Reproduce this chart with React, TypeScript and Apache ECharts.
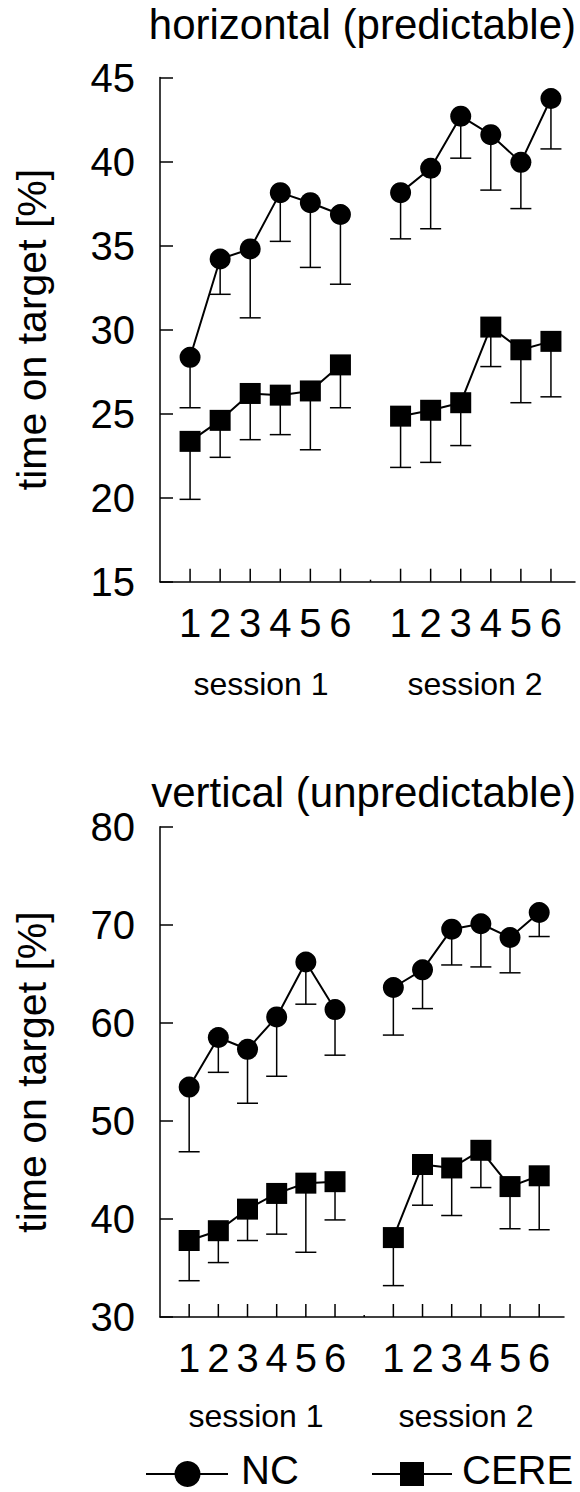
import React, { useEffect, useRef } from 'react';
import * as echarts from 'echarts';

// ---- data ----
const trialLabels = ['1', '2', '3', '4', '5', '6'];
const sessionLabels = ['session 1', 'session 2'];
const trialPos = [1, 2, 3, 4, 5, 6, 8, 9, 10, 11, 12, 13];
const gapPos = 7;
const seriesNames = ['NC', 'CERE'];
const panelTitles = ['horizontal (predictable)', 'vertical (unpredictable)'];
const yAxisName = 'time on target [%]';

// horizontal (predictable)
const horizontalNC = [28.35, 34.2, 34.8, 38.15, 37.55, 36.85, 38.15, 39.6, 42.7, 41.6, 39.95, 43.75];
const horizontalNCLow = [25.35, 32.1, 30.7, 35.25, 33.7, 32.7, 35.4, 36.0, 40.2, 38.3, 37.2, 40.75];
const horizontalCERE = [23.35, 24.6, 26.2, 26.1, 26.35, 27.9, 24.85, 25.2, 25.65, 30.15, 28.8, 29.3];
const horizontalCERELow = [19.9, 22.4, 23.45, 23.75, 22.85, 25.35, 21.8, 22.1, 23.1, 27.8, 25.65, 26.0];
const horizontalTicks = [15, 45, 5];

// vertical (unpredictable)
const verticalNC = [53.45, 58.5, 57.3, 60.6, 66.2, 61.35, 63.6, 65.4, 69.55, 70.1, 68.7, 71.25];
const verticalNCLow = [46.85, 54.95, 51.8, 54.55, 61.9, 56.7, 58.75, 61.45, 65.9, 65.7, 65.1, 68.8];
const verticalCERE = [37.8, 38.8, 41.0, 42.6, 43.65, 43.8, 38.1, 45.55, 45.2, 47.0, 43.3, 44.4];
const verticalCERELow = [33.7, 35.55, 37.8, 38.45, 36.6, 39.9, 33.2, 41.4, 40.35, 43.2, 39.0, 38.9];
const verticalTicks = [30, 80, 10];

const FONT = "'Liberation Sans', Arial, Helvetica, sans-serif";
const BLACK = '#000';

function lineData(vals: number[]) {
  const d: any[] = [];
  vals.forEach((v, i) => {
    if (i === 6) d.push([gapPos, '-']);
    d.push([trialPos[i], v]);
  });
  return d;
}

function errData(vals: number[], low: number[]) {
  return vals.map((v, i) => [trialPos[i], v, low[i]]);
}

const panels = [
  {
    title: panelTitles[0], nc: horizontalNC, ncLow: horizontalNCLow, cere: horizontalCERE, cereLow: horizontalCERELow,
    ticks: horizontalTicks, xMax: 13.8,
    grid: { left: 160, top: 77.5, width: 415, height: 504.2 },
    titleY: 24.5, sessionY: 684, session1X: 261, session2X: 475, nameY: 329.5,
  },
  {
    title: panelTitles[1], nc: verticalNC, ncLow: verticalNCLow, cere: verticalCERE, cereLow: verticalCERELow,
    ticks: verticalTicks, xMax: 13.85,
    grid: { left: 160, top: 826.7, width: 404, height: 490.3 },
    titleY: 792, sessionY: 1416, session1X: 256, session2X: 466, nameY: 1072,
  },
];

function errRender(params: any, api: any) {
  const x = api.value(0);
  const top = api.coord([x, api.value(1)]);
  const bot = api.coord([x, api.value(2)]);
  return {
    type: 'group',
    children: [
      { type: 'line', shape: { x1: top[0], y1: top[1], x2: bot[0], y2: bot[1] }, style: { stroke: BLACK, lineWidth: 1.5 } },
      { type: 'line', shape: { x1: bot[0] - 10.5, y1: bot[1], x2: bot[0] + 10.5, y2: bot[1] }, style: { stroke: BLACK, lineWidth: 1.5 } },
    ],
  };
}

function tickRender(params: any, api: any) {
  const x = api.value(0);
  const p = api.coord([x, api.value(1)]);
  const len = x === gapPos ? 2 : 13;
  return {
    type: 'line',
    shape: { x1: p[0], y1: p[1], x2: p[0], y2: p[1] - len },
    style: { stroke: BLACK, lineWidth: 1.5 },
  };
}

function textEl(x: number, y: number, text: string, size: number, align: string, extra: any = {}) {
  return {
    type: 'text', x, y, ...extra,
    style: {
      text, fontSize: size, fontFamily: FONT, fill: BLACK,
      textAlign: align, align, textVerticalAlign: 'middle', verticalAlign: 'middle',
    },
  };
}

function buildOption() {
  const grid: any[] = [];
  const xAxis: any[] = [];
  const yAxis: any[] = [];
  const series: any[] = [];
  const graphic: any[] = [];

  panels.forEach((p, gi) => {
    grid.push({ ...p.grid, containLabel: false });
    xAxis.push({
      type: 'value', gridIndex: gi, min: 0, max: p.xMax, interval: 1,
      axisLine: { show: true, onZero: false, lineStyle: { color: BLACK, width: 1.5 } },
      axisTick: { show: false },
      splitLine: { show: false },
      axisLabel: {
        margin: 21, fontSize: 40, fontFamily: FONT, color: BLACK,
        formatter: (v: number) => {
          if (v >= 1 && v <= 6 && Number.isInteger(v)) return trialLabels[v - 1];
          if (v >= 8 && v <= 13 && Number.isInteger(v)) return trialLabels[v - 8];
          return '';
        },
      },
    });
    yAxis.push({
      type: 'value', gridIndex: gi, min: p.ticks[0], max: p.ticks[1], interval: p.ticks[2],
      axisLine: { show: true, lineStyle: { color: BLACK, width: 1.5 } },
      axisTick: { show: true, inside: true, length: 13, lineStyle: { color: BLACK, width: 1.5 } },
      splitLine: { show: false },
      axisLabel: { margin: 25, fontSize: 40, fontFamily: FONT, color: BLACK },
    });

    // x ticks (drawn through the axes' scales)
    series.push({
      type: 'custom', xAxisIndex: gi, yAxisIndex: gi, clip: false, z: 3, silent: true,
      renderItem: tickRender,
      encode: { x: 0, y: 1 },
      data: [...trialPos, gapPos].map((x) => [x, p.ticks[0]]),
    });

    // error bars
    [[p.nc, p.ncLow], [p.cere, p.cereLow]].forEach(([v, l]) => {
      series.push({
        type: 'custom', xAxisIndex: gi, yAxisIndex: gi, clip: false, z: 2, silent: true,
        renderItem: errRender,
        encode: { x: 0, y: [1, 2] },
        data: errData(v, l),
      });
    });

    // lines with markers
    series.push({
      name: seriesNames[0], type: 'line', xAxisIndex: gi, yAxisIndex: gi, z: 4,
      data: lineData(p.nc), symbol: 'circle', symbolSize: 21, showSymbol: true,
      lineStyle: { color: BLACK, width: 2 }, itemStyle: { color: BLACK },
      connectNulls: false,
    });
    series.push({
      name: seriesNames[1], type: 'line', xAxisIndex: gi, yAxisIndex: gi, z: 4,
      data: lineData(p.cere), symbol: 'rect', symbolSize: 21, showSymbol: true,
      lineStyle: { color: BLACK, width: 2 }, itemStyle: { color: BLACK },
      connectNulls: false,
    });

    graphic.push(textEl(576, p.titleY, p.title, 42, 'right'));
    graphic.push(textEl(32, p.nameY, yAxisName, 41, 'center', { rotation: Math.PI / 2 }));
    graphic.push(textEl(p.session1X, p.sessionY, sessionLabels[0], 32, 'center'));
    graphic.push(textEl(p.session2X, p.sessionY, sessionLabels[1], 32, 'center'));
  });

  // legend
  const ly = 1474;
  graphic.push({ type: 'line', shape: { x1: 146, y1: ly, x2: 228, y2: ly }, style: { stroke: BLACK, lineWidth: 2 } });
  graphic.push({ type: 'circle', shape: { cx: 187.5, cy: ly, r: 13 }, style: { fill: BLACK } });
  graphic.push(textEl(241, 1470, seriesNames[0], 40, 'left'));
  graphic.push({ type: 'line', shape: { x1: 372, y1: ly, x2: 452, y2: ly }, style: { stroke: BLACK, lineWidth: 2 } });
  graphic.push({ type: 'rect', shape: { x: 400, y: ly - 12, width: 24, height: 24 }, style: { fill: BLACK } });
  graphic.push(textEl(462, 1470, seriesNames[1], 40, 'left'));

  return {
    animation: false,
    backgroundColor: '#fff',
    grid, xAxis, yAxis, series, graphic,
  };
}

export default function App() {
  const ref = useRef<HTMLDivElement>(null);
  useEffect(() => {
    if (!ref.current) return;
    const chart = echarts.init(ref.current, undefined, { renderer: 'svg' });
    chart.setOption(buildOption() as any);
    return () => chart.dispose();
  }, []);
  return (
    <div
      ref={ref}
      style={{ position: 'absolute', left: 0, top: 0, width: 580, height: 1492, background: '#fff' }}
    />
  );
}
